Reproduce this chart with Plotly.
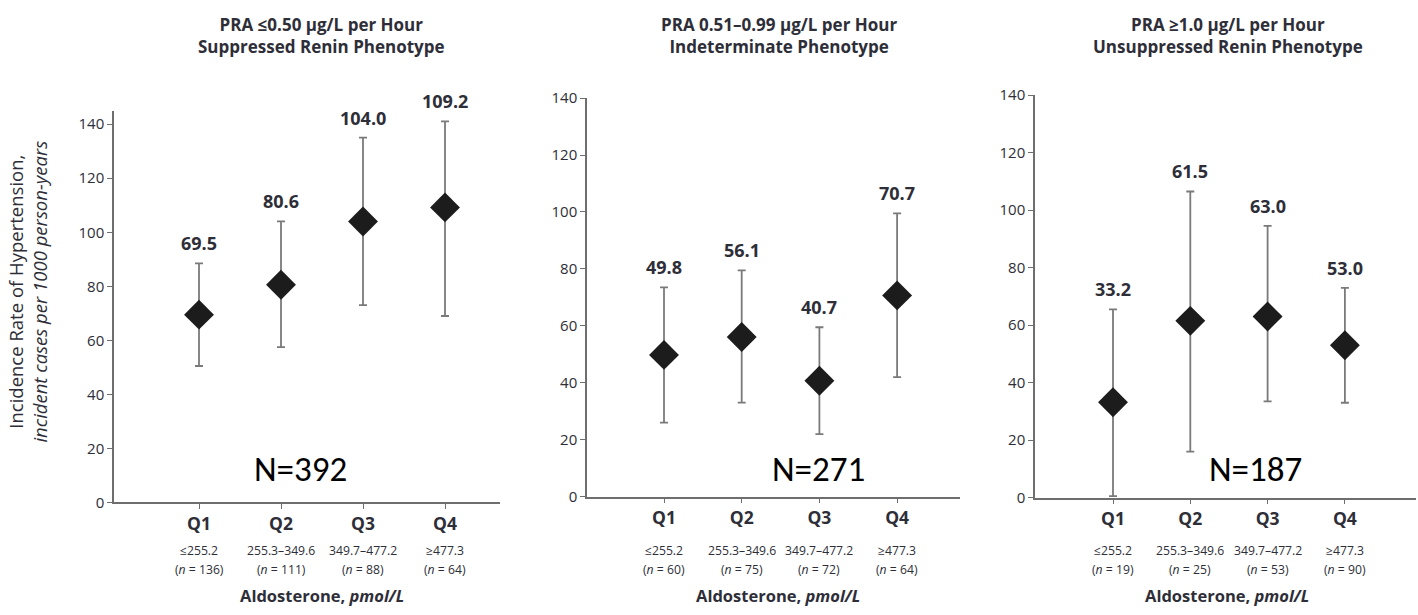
import plotly.graph_objects as go

categories = ["Q1", "Q2", "Q3", "Q4"]
ranges = ["≤255.2", "255.3–349.6", "349.7–477.2", "≥477.3"]

titles = [
    "PRA ≤0.50 μg/L per Hour<br>Suppressed Renin Phenotype",
    "PRA 0.51–0.99 μg/L per Hour<br>Indeterminate Phenotype",
    "PRA ≥1.0 μg/L per Hour<br>Unsuppressed Renin Phenotype",
]
totals = ["N=392", "N=271", "N=187"]

rate_suppressed = [69.5, 80.6, 104.0, 109.2]
lower_suppressed = [50.5, 57.5, 73.0, 69.0]
upper_suppressed = [88.5, 104.0, 135.0, 141.0]
n_suppressed = [136, 111, 88, 64]

rate_indeterminate = [49.8, 56.1, 40.7, 70.7]
lower_indeterminate = [26.0, 33.0, 22.0, 42.0]
upper_indeterminate = [73.5, 79.5, 59.5, 99.5]
n_indeterminate = [60, 75, 72, 64]

rate_unsuppressed = [33.2, 61.5, 63.0, 53.0]
lower_unsuppressed = [0.5, 16.0, 33.5, 33.0]
upper_unsuppressed = [65.5, 106.5, 94.5, 73.0]
n_unsuppressed = [19, 25, 53, 90]

panels = [
    (rate_suppressed, lower_suppressed, upper_suppressed, n_suppressed),
    (rate_indeterminate, lower_indeterminate, upper_indeterminate, n_indeterminate),
    (rate_unsuppressed, lower_unsuppressed, upper_unsuppressed, n_unsuppressed),
]

W, H = 1418, 615
FONT = "Open Sans"
TXT = "#2e2e38"
AX = "#6e6e6e"

# layout geometry (pixels)
geo = [
    dict(x0=114, x1=500, q1=199, step=82.0, y0=508, ytop=103, ymax=145),
    dict(x0=587, x1=960, q1=664, step=77.7, y0=502, ytop=90, ymax=140),
    dict(x0=1035, x1=1416, q1=1113, step=77.3, y0=503, ytop=87, ymax=140),
]

fig = go.Figure()
annotations = []

for i, ((rate, lo, up, ns), g) in enumerate(zip(panels, geo)):
    k = "" if i == 0 else str(i + 1)
    xa, ya = "x" + k, "y" + k
    fig.add_trace(go.Scatter(
        x=categories, y=rate, xaxis=xa, yaxis=ya, mode="markers",
        marker=dict(symbol="diamond", size=23, color="#1c1c1c"),
        error_y=dict(type="data", symmetric=False,
                     array=[u - r for u, r in zip(up, rate)],
                     arrayminus=[r - l for r, l in zip(rate, lo)],
                     color="#7a7a7a", thickness=1.8, width=4),
        showlegend=False, hoverinfo="skip",
    ))
    rmin = -(g["q1"] - g["x0"]) / g["step"]
    rmax = (g["x1"] - g["q1"]) / g["step"]
    xdom = [g["x0"] / W, g["x1"] / W]
    ydom = [(H - g["y0"]) / H, (H - g["ytop"]) / H]
    fig.layout["xaxis" + k] = dict(
        domain=xdom, range=[rmin, rmax], type="category", anchor=ya,
        showline=True, linecolor=AX, linewidth=1.5, ticks="outside",
        ticklen=5, tickcolor=AX, tickwidth=1.2, showgrid=False, zeroline=False,
        tickvals=categories, ticktext=["<b>%s</b>" % c for c in categories],
        tickfont=dict(family=FONT, size=17.5, color=TXT),
    )
    fig.layout["yaxis" + k] = dict(
        domain=ydom, range=[0, g["ymax"]], anchor=xa,
        showline=True, linecolor=AX, linewidth=1.5, ticks="outside",
        ticklen=5, tickcolor=AX, tickwidth=1.2, showgrid=False, zeroline=False,
        tickvals=[0, 20, 40, 60, 80, 100, 120, 140],
        tickfont=dict(family=FONT, size=15, color=TXT),
    )
    for c, r, u, rg, n in zip(categories, rate, up, ranges, ns):
        annotations.append(dict(x=c, y=u, xref=xa, yref=ya, text="<b>%.1f</b>" % r,
                                showarrow=False, xanchor="center", yanchor="bottom", yshift=6,
                                font=dict(family=FONT, size=18, color=TXT)))
        annotations.append(dict(x=c, y=(H - 558) / H, xref=xa, yref="paper", text=rg,
                                showarrow=False, xanchor="center", yanchor="middle",
                                font=dict(family=FONT, size=12.2, color=TXT)))
        annotations.append(dict(x=c, y=(H - 577) / H, xref=xa, yref="paper",
                                text="(<i>n</i> = %d)" % n,
                                showarrow=False, xanchor="center", yanchor="middle",
                                font=dict(family=FONT, size=12.2, color=TXT)))
    xc = [321, 779, 1228][i]
    annotations.append(dict(x=xc / W, y=(H - 25) / H, xref="paper", yref="paper",
                            text="<b>%s</b>" % titles[i], showarrow=False,
                            xanchor="center", yanchor="middle",
                            font=dict(family=FONT, size=17, color=TXT)))
    ncx = [300, 818, 1255][i]
    annotations.append(dict(x=ncx / W, y=(H - 473) / H, xref="paper", yref="paper",
                            text=totals[i], showarrow=False, xanchor="center", yanchor="middle",
                            font=dict(family="Carlito, Liberation Sans", size=35, color="#000000")))
    annotations.append(dict(x=[322, 778, 1227][i] / W, y=(H - 604) / H, xref="paper", yref="paper",
                            text="<b>Aldosterone,</b> <b><i>pmol/L</i></b>", showarrow=False,
                            xanchor="center", yanchor="middle",
                            font=dict(family=FONT, size=16.5, color=TXT)))

annotations.append(dict(x=28 / W, y=(H - 290) / H, xref="paper", yref="paper",
                        text="Incidence Rate of Hypertension,<br><i>incident cases per 1000 person-years</i>",
                        showarrow=False, textangle=-90, xanchor="center", yanchor="middle",
                        font=dict(family=FONT, size=18.5, color=TXT)))

fig.update_layout(
    width=W, height=H, margin=dict(l=0, r=0, t=0, b=0),
    paper_bgcolor="white", plot_bgcolor="white",
    annotations=annotations,
)

fig.write_html("out.html")
